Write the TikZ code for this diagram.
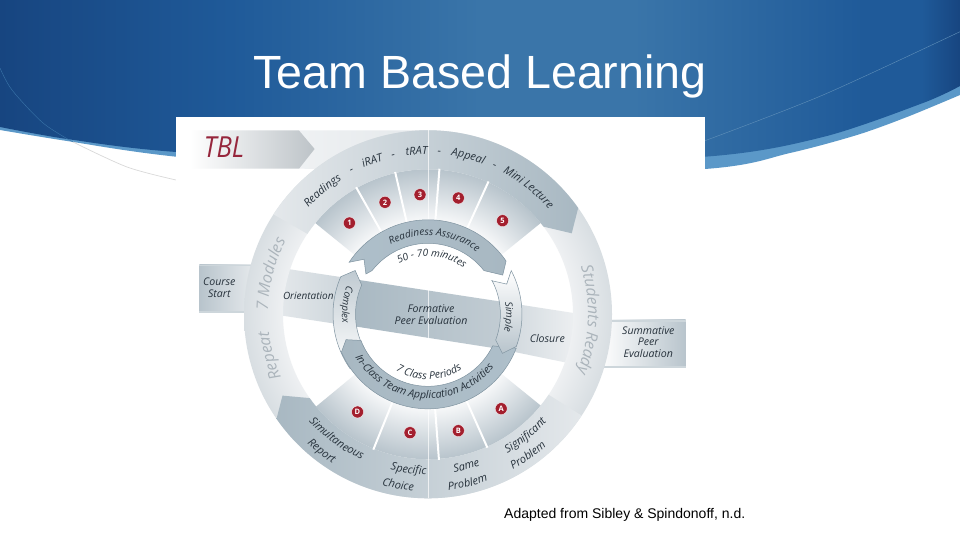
\documentclass[tikz,border=0pt]{standalone}
\usepackage{fontspec}
\setmainfont{Open Sans}
\newfontfamily\titlefont{Liberation Sans}
\usetikzlibrary{decorations.text}
\definecolor{bluedark}{HTML}{174580}
\definecolor{bluemid}{HTML}{1F5A99}
\definecolor{bluelight}{HTML}{3A75A9}
\definecolor{stripe}{HTML}{5B98C8}
\definecolor{wgray}{HTML}{B8C4CC}
\definecolor{wwhite}{HTML}{F8F9FA}
\definecolor{ringout}{HTML}{D8DEE2}
\definecolor{ringin}{HTML}{EEF0F2}
\definecolor{bandlight}{HTML}{E4E8EB}
\definecolor{bandmid}{HTML}{D2D9DE}
\definecolor{banddark}{HTML}{A8B8C2}
\definecolor{arrowfill}{HTML}{AEBFCA}
\definecolor{arrowline}{HTML}{7F93A0}
\definecolor{inktext}{HTML}{27323C}
\definecolor{ringtext}{HTML}{ABB4BB}
\definecolor{badgered}{HTML}{A31F2E}
\definecolor{tblred}{HTML}{96263C}
\pgfdeclarehorizontalshading{skyshade}{100bp}{
 color(0bp)=(bluedark); color(25bp)=(bluedark); color(37bp)=(bluemid); color(50bp)=(bluelight);
 color(58bp)=(bluelight); color(70bp)=(bluemid); color(73bp)=(bluemid); color(75bp)=(bluedark); color(100bp)=(bluedark)}
\pgfdeclareradialshading{wedgeshade}{\pgfpointorigin}{
 color(0bp)=(wwhite); color(16bp)=(wwhite); color(25bp)=(wgray); color(50bp)=(wgray)}
\pgfdeclareradialshading{ringshade}{\pgfpointorigin}{
 color(0bp)=(ringin); color(19.7bp)=(ringin); color(25bp)=(ringout); color(50bp)=(ringout)}
\tikzset{
 pxscope/.style={x=1pt,y=-1pt,shift={(0pt,540pt)}},
 arcscope/.style={x=1pt,y=1pt,shift={(428pt,225.7pt)}},
 label/.style={font=\fontsize{10.6}{11.6}\selectfont\itshape,text=inktext,inner sep=0pt,align=center},
 badge/.style={circle,fill=badgered,draw=white,line width=0.3pt,minimum size=12pt,inner sep=0pt,text=white,font=\fontsize{7.5}{8}\selectfont\bfseries},
 divider/.style={draw=white,line width=2pt},
 arrowshape/.style={draw=arrowline,line width=0.5pt},
}
\newcommand{\cwtext}[5]{% R, centre angle, size, colour, text
 \path[decorate,decoration={text along path,text color=#4,text align=center,
   text={|\fontsize{#3}{#3}\selectfont\itshape|#5}}]
   (#2+80:#1pt) arc[start angle=#2+80,end angle=#2-80,radius=#1pt];}
\newcommand{\ccwtext}[5]{%
 \path[decorate,decoration={text along path,text color=#4,text align=center,
   text={|\fontsize{#3}{#3}\selectfont\itshape|#5}}]
   (#2-80:#1pt) arc[start angle=#2-80,end angle=#2+80,radius=#1pt];}
\begin{document}
\begin{tikzpicture}[x=1pt,y=1pt]
\useasboundingbox (0,0) rectangle (960,540);
\fill[white] (0,0) rectangle (960,540);
\begin{scope}[pxscope]
 % swoosh
 \fill[stripe] plot[smooth] coordinates {(0,130)(67,141)(176,156.7)(430,180)(705,169)(790,153)(857,135)(907,117)(960,95)} -- (960,0) -- (0,0) -- cycle;
 \shade[shading=skyshade] plot[smooth] coordinates {(0,127)(67,139)(176,152)(430,166)(705,156.7)(823,137)(923,103)(960,86)} -- (960,0) -- (0,0) -- cycle;
 \draw[bluelight!80!white,line width=0.4pt] plot[smooth] coordinates {(705,140.7)(823,95)(960,31.7)};
 \draw[bluelight,line width=0.4pt] plot[smooth] coordinates {(0,68)(12,90)(43,123)(73,142)};
 \draw[black!15,line width=0.7pt] plot[smooth] coordinates {(73,142)(127,167)(176,180)};
 % picture sheet
 \fill[white] (176,117) rectangle (705,505);
 \node[font=\titlefont\fontsize{46.6}{50}\selectfont,text=white,anchor=base,inner sep=0pt] (title) at (480,89) {Team Based Learning};
 \node[font=\titlefont\fontsize{14}{16}\selectfont,text=black,anchor=base west,inner sep=0pt] (source) at (504,519) {Adapted from Sibley \& Spindonoff, n.d.};
 % TBL banner
 \shade[left color=bandlight!60!white,right color=bandlight] (299,130.5) -- (428,130.5) -- (428,170) -- (299,168.7) -- cycle;
 \shade[left color=white,right color=bandmid!90!black] (190,130.5) -- (299,130.5) -- (314.6,149) -- (299,168.7) -- (190,168.7) -- cycle;
 % side boxes
 \shade[left color=wgray,right color=bandlight] (199.3,265) rectangle (252,313);
 \fill[wgray!70!white] (199.3,265) rectangle (252,266.5);
 \fill[wgray!70!white] (199.3,311.5) rectangle (252,313.5);
 \shade[left color=white,right color=wgray] (600,320) rectangle (685.7,368);
 \fill[wgray!70!white] (600,320) rectangle (685.7,322);
 \fill[wgray!70!white] (600,366) rectangle (685.7,368.5);
 % slab
 \shade[left color=bandlight,right color=wgray!70!white] (278,267.5) -- (345,277.7) -- (345,325.2) -- (278,315) -- cycle;
 \shade[left color=wgray!70!white,right color=ringin] (500,301.6) -- (578,313.7) -- (578,365) -- (500,349) -- cycle;
\end{scope}
\begin{scope}[arcscope]
 % ring
 \shade[shading=ringshade,even odd rule] (0,0) circle (184pt) (0,0) circle (145pt);
 % wedges
 \begin{scope}
  \clip (141:145pt) arc[start angle=141,end angle=39,radius=145pt] -- (39:95pt) arc[start angle=39,end angle=141,radius=95pt] -- cycle;
  \shade[shading=wedgeshade] (0,0) circle (145pt);
 \end{scope}
 \begin{scope}
  \clip (219.5:145pt) arc[start angle=219.5,end angle=321,radius=145pt] -- (321:95pt) arc[start angle=321,end angle=219.5,radius=95pt] -- cycle;
  \shade[shading=wedgeshade] (0,0) circle (145pt);
 \end{scope}
 % bands
 \shade[left color=bandlight,middle color=bandmid,right color=banddark]
  (147.1:184pt) arc[start angle=147.1,end angle=35.3,radius=184pt] -- (29.4:165pt) -- (37.2:145pt)
  arc[start angle=37.2,end angle=146.3,radius=145pt] -- cycle;
 \shade[left color=banddark,middle color=bandmid,right color=bandlight]
  (214.6:184pt) arc[start angle=214.6,end angle=326.6,radius=184pt] -- (326.3:145pt)
  arc[start angle=326.3,end angle=215.3,radius=145pt] -- (209.2:166.7pt) -- cycle;
 % dividers
 \draw[divider] (119.5:146pt) -- (119.5:95pt);
 \draw[divider] (103:146pt) -- (103:95pt);
 \draw[divider] (85.5:146pt) -- (85.5:95pt);
 \draw[divider] (65.5:146pt) -- (65.5:95pt);
 \draw[divider] (294:146pt) -- (294:95pt);
 \draw[divider] (274.3:146pt) -- (274.3:95pt);
 \draw[divider] (248:146pt) -- (248:95pt);
 % slab inside the loop
 \begin{scope}
  \clip (0,0) circle (80pt);
  \shade[left color=banddark,right color=wgray!85!white] (-80,36) -- (80,11.6) -- (80,-36) -- (-80,-11) -- cycle;
 \end{scope}
 \draw[white,opacity=0.7,line width=0.5pt] (0.7,184) -- (0.7,-184);
 % complex
 \shade[arrowshape,top color=wgray!90!white,bottom color=white]
  (156.7:95pt) -- (149:85pt) -- (156.2:72.5pt) arc[start angle=156.2,end angle=215,radius=72.5pt]
  -- (215:95pt) arc[start angle=215,end angle=156.7,radius=95pt] -- cycle;
 % in-class
 \shade[arrowshape,left color=banddark,right color=arrowfill]
  (197.2:85.8pt) -- (203.6:94.5pt) arc[start angle=203.6,end angle=339,radius=94.5pt]
  -- (334:72pt) arc[start angle=334,end angle=201.3,radius=72pt] -- cycle;
 % simple
 \shade[arrowshape,top color=white,bottom color=wgray]
  (27.8:72pt) -- (21:84.3pt) -- (27.7:94pt) arc[start angle=27.7,end angle=-20,radius=94pt]
  -- (-27.7:84pt) -- (-20.8:72.4pt) arc[start angle=-20.8,end angle=27.8,radius=72.4pt] -- cycle;
 % readiness
 \shade[arrowshape,left color=arrowfill,right color=banddark]
  (34.3:94.5pt) arc[start angle=34.3,end angle=146.6,radius=94.5pt] -- (139.3:84.4pt) -- (147:74pt) -- (142:71pt)
  arc[start angle=142,end angle=38,radius=71pt] -- (27.7:84.4pt) -- cycle;
\end{scope}
\begin{scope}[pxscope]
 \node[badge] (b1) at (349.4,223) {1};
 \node[badge] (b2) at (385,202.3) {2};
 \node[badge] (b3) at (420,194.7) {3};
 \node[badge] (b4) at (458.3,198) {4};
 \node[badge] (b5) at (502.6,220.7) {5};
 \node[badge] (bA) at (501.2,408.7) {A};
 \node[badge] (bB) at (458.3,430.7) {B};
 \node[badge] (bC) at (410,432.7) {C};
 \node[badge] (bD) at (357.5,412) {D};
 \node[font=\fontsize{29}{31}\selectfont\itshape,text=tblred,inner sep=0pt,xscale=0.88] (tbl) at (224,147.5) {TBL};
 \node[label] (cs) at (219.3,287.5) {Course\\Start};
 \node[label,font=\fontsize{10}{11}\selectfont\itshape] (ori) at (308.3,295.7) {Orientation};
 \node[label] (fpe) at (431,314.7) {Formative\\Peer Evaluation};
 \node[label] (clo) at (547.3,338.3) {Closure};
 \node[label] (spe) at (648.3,342) {Summative\\Peer\\Evaluation};
\end{scope}
\begin{scope}[arcscope]
 \cwtext{160}{130.5}{11}{inktext}{Readings}
 \cwtext{160}{118}{11}{inktext}{-}
 \cwtext{160}{110}{11}{inktext}{iRAT}
 \cwtext{160}{102.3}{11}{inktext}{-}
 \cwtext{160}{94}{11}{inktext}{tRAT}
 \cwtext{160}{86}{11}{inktext}{-}
 \cwtext{160}{75.7}{11}{inktext}{Appeal}
 \cwtext{160}{65.9}{11}{inktext}{-}
 \cwtext{160}{51.5}{11}{inktext}{Mini Lecture}
 \cwtext{160}{165.6}{16}{ringtext}{7 Modules}
 \cwtext{160}{194.7}{16}{ringtext}{Repeat}
 \cwtext{160}{-2}{16}{ringtext}{Students Ready}
 \ccwtext{160}{233.7}{11}{inktext}{Simultaneous}
 \ccwtext{177}{232.2}{11}{inktext}{Report}
 \ccwtext{160}{262.9}{11}{inktext}{Specific}
 \ccwtext{177}{260.1}{11}{inktext}{Choice}
 \ccwtext{160}{284.2}{11}{inktext}{Same}
 \ccwtext{177}{283.2}{11}{inktext}{Problem}
 \ccwtext{160}{308.8}{11}{inktext}{Significant}
 \ccwtext{177}{305.3}{11}{inktext}{Problem}
 \cwtext{79}{85}{10}{inktext}{Readiness Assurance}
 \cwtext{58}{86}{10}{inktext}{50 - 70 minutes}
 \ccwtext{86}{173.5}{10}{inktext}{Complex}
 \cwtext{78}{-2}{10}{inktext}{Simple}
 \ccwtext{84.5}{265.8}{10.6}{inktext}{In-Class Team Application Activities}
 \ccwtext{65}{271}{10.5}{inktext}{7 Class Periods}
\end{scope}
\end{tikzpicture}
\end{document}
